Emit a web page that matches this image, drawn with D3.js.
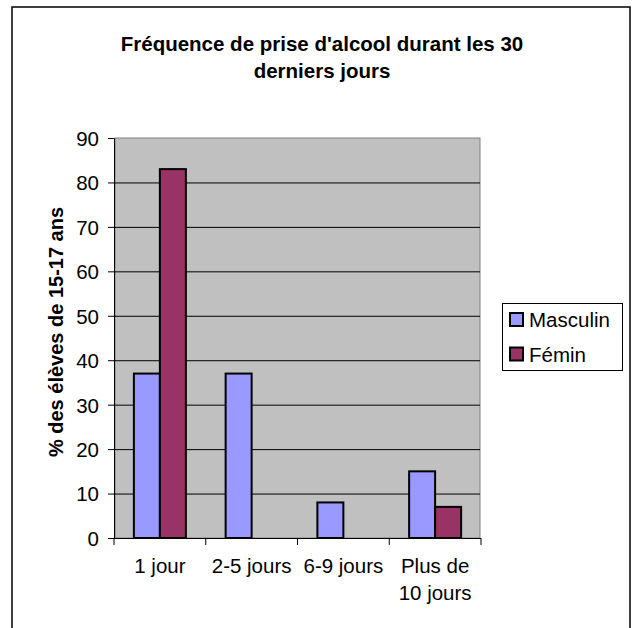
<!DOCTYPE html>
<html>
<meta charset="utf-8" />
<style>
	html, body, svg { padding: 0; margin: 0; }
	body { background: #fff; }
	text { font-family: "Liberation Sans", Arial, sans-serif; fill: #000; }
</style>
<svg width="635" height="628"></svg>
<script src="https://d3js.org/d3.v7.min.js"></script>
<script>
	var categories = [["1 jour"], ["2-5 jours"], ["6-9 jours"], ["Plus de", "10 jours"]];
	var series = ["Masculin", "Fémin"];
	var masculin = [37, 37, 8, 15];
	var femin = [83, null, null, 7];
	var yTicks = [0, 10, 20, 30, 40, 50, 60, 70, 80, 90];
	var colors = ["#9999FF", "#993366"];

	var svg = d3.select("svg");
	var plot = { left: 114, right: 481, top: 138, bottom: 538 };
	var fs = 20.5;

	// outer frame
	svg.append("rect").attr("x", 12).attr("y", 7).attr("width", 618).attr("height", 640)
		.attr("fill", "#fff").attr("stroke", "#000").attr("stroke-width", 1.5);

	// title
	var title = svg.append("text").attr("text-anchor", "middle")
		.attr("font-weight", "bold").attr("font-size", 20.5);
	title.append("tspan").attr("x", 322).attr("y", 51).text("Fréquence de prise d'alcool durant les 30");
	title.append("tspan").attr("x", 322).attr("y", 78).text("derniers jours");

	var x = d3.scaleBand().domain(d3.range(categories.length)).range([plot.left, plot.right]);
	var y = d3.scaleLinear().domain([0, 90]).range([plot.bottom, plot.top]);
	var xs = d3.scaleBand().domain(d3.range(series.length)).range([0, 52]);
	var groupOff = (x.bandwidth() - 52) / 2;

	// plot area
	svg.append("rect").attr("x", plot.left + 1).attr("y", plot.top)
		.attr("width", plot.right - plot.left - 2).attr("height", plot.bottom - plot.top)
		.attr("fill", "#C0C0C0").attr("stroke", "#808080").attr("stroke-width", 1);

	// gridlines
	svg.append("g").selectAll("line").data(yTicks.filter(function (d) { return d > 0 && d < 90; }))
		.enter().append("line")
		.attr("x1", plot.left).attr("x2", plot.right - 1)
		.attr("y1", function (d) { return y(d) + 0.5; }).attr("y2", function (d) { return y(d) + 0.5; })
		.attr("stroke", "#000").attr("stroke-width", 1);

	// bars
	var data = [masculin, femin];
	data.forEach(function (vals, s) {
		svg.append("g").selectAll("rect").data(vals.map(function (v, i) { return { v: v, i: i }; })
			.filter(function (d) { return d.v != null; }))
			.enter().append("rect")
			.attr("x", function (d) { return x(d.i) + groupOff + xs(s); })
			.attr("y", function (d) { return y(d.v); })
			.attr("width", xs.bandwidth())
			.attr("height", function (d) { return plot.bottom - y(d.v); })
			.attr("fill", colors[s]).attr("stroke", "#000").attr("stroke-width", 2);
	});

	// y axis
	var yAxis = svg.append("g").attr("transform", "translate(" + plot.left + ",0)")
		.call(d3.axisLeft(y).tickValues(yTicks).tickSize(6).tickPadding(9));
	yAxis.select(".domain").attr("stroke", "#000");
	yAxis.selectAll("text").attr("font-size", fs).attr("font-family", "Liberation Sans, Arial, sans-serif").attr("dy", "0.36em");

	// x axis
	var xAxisG = svg.append("g").attr("transform", "translate(0," + plot.bottom + ")");
	xAxisG.append("line").attr("x1", plot.left).attr("x2", plot.right).attr("y1", 0.5).attr("y2", 0.5).attr("stroke", "#000");
	xAxisG.selectAll(".tk").data(d3.range(categories.length + 1)).enter().append("line")
		.attr("x1", function (i) { return plot.left + i * x.step(); })
		.attr("x2", function (i) { return plot.left + i * x.step(); })
		.attr("y1", 0).attr("y2", 7).attr("stroke", "#000");
	var labels = xAxisG.selectAll(".lbl").data(categories).enter().append("text")
		.attr("text-anchor", "middle").attr("font-size", fs);
	labels.each(function (lines, i) {
		var t = d3.select(this);
		lines.forEach(function (l, k) {
			t.append("tspan").attr("x", x(i) + x.bandwidth() / 2).attr("y", 35 + k * 27).text(l);
		});
	});

	// y axis title
	svg.append("text").attr("transform", "translate(63,332) rotate(-90)")
		.attr("text-anchor", "middle").attr("font-weight", "bold").attr("font-size", 20)
		.text("% des élèves de 15-17 ans");

	// legend
	var lg = svg.append("g");
	lg.append("rect").attr("x", 502.5).attr("y", 303.5).attr("width", 120).attr("height", 67)
		.attr("fill", "#fff").attr("stroke", "#000").attr("stroke-width", 1);
	series.forEach(function (name, s) {
		lg.append("rect").attr("x", 510).attr("y", 313 + s * 34.5).attr("width", 13).attr("height", 13)
			.attr("fill", colors[s]).attr("stroke", "#000").attr("stroke-width", 2);
		lg.append("text").attr("x", 529).attr("y", 327 + s * 34.5).attr("font-size", fs).text(name);
	});
</script>
</html>
